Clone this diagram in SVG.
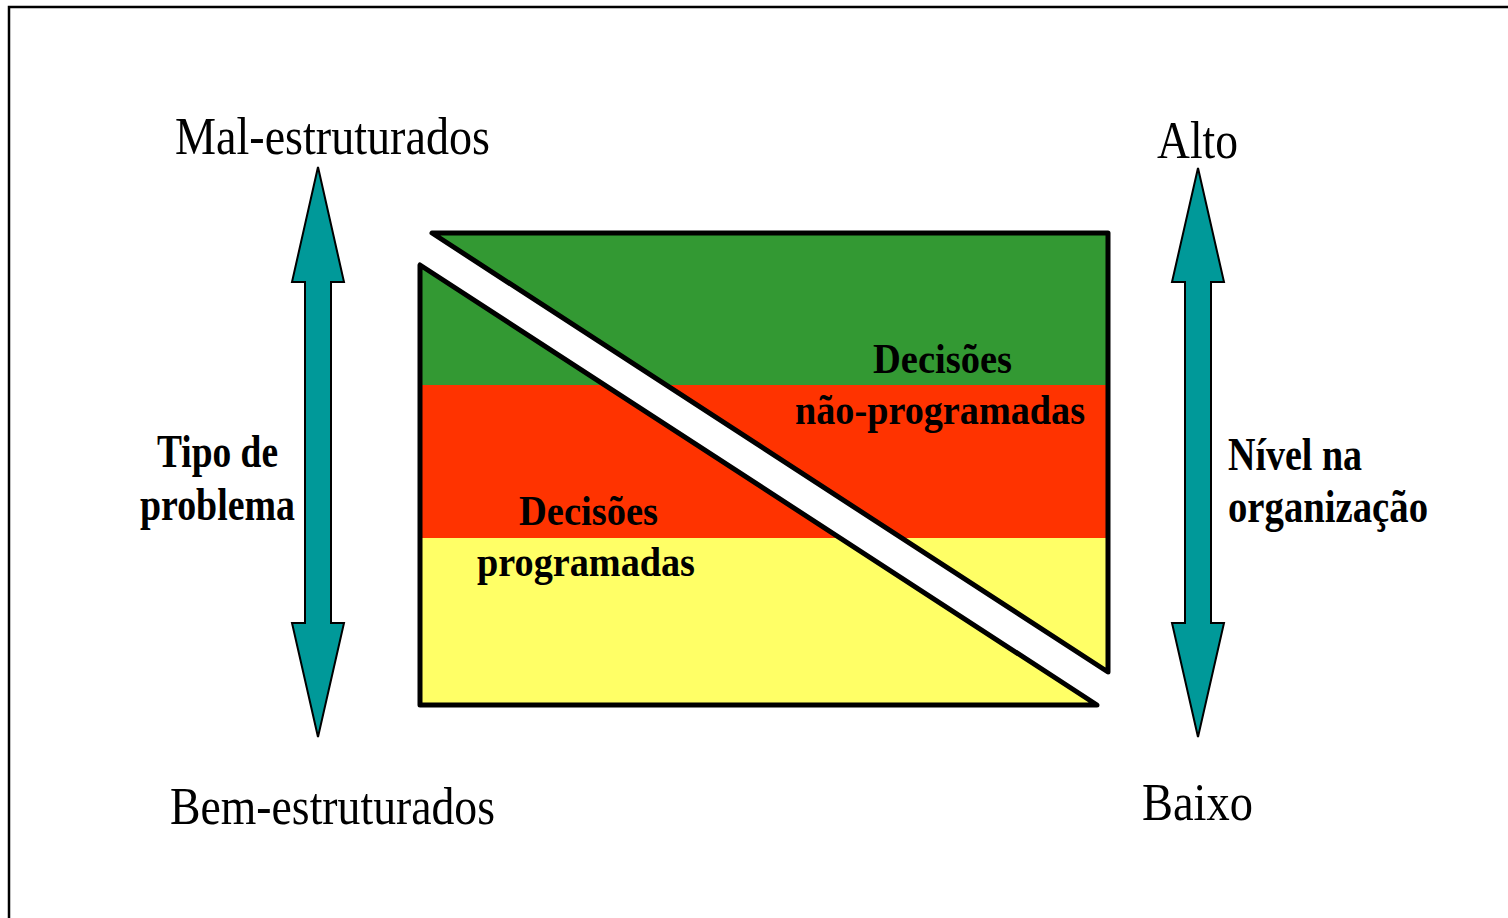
<svg xmlns="http://www.w3.org/2000/svg" width="1508" height="918" viewBox="0 0 1508 918">
  <style>
    .reg { font-family: "Liberation Serif", "Times New Roman", serif; font-size: 52px; fill: #000; }
    .bold { font-family: "Liberation Serif", "Times New Roman", serif; font-weight: bold; font-size: 46px; fill: #000; }
    .dec { font-family: "Liberation Serif", "Times New Roman", serif; font-weight: bold; font-size: 42px; fill: #000; }
    .arrow { fill: #009999; stroke: #000; stroke-width: 2; stroke-linejoin: miter; }
    .outline { fill: none; stroke: #000; stroke-width: 5; stroke-linejoin: round; }
  </style>
  <defs>
    <clipPath id="clipUpper"><polygon points="432,233 1108,233 1108,672"/></clipPath>
    <clipPath id="clipLower"><polygon points="420,265 420,705 1097,705"/></clipPath>
    <g id="bands">
      <rect x="400" y="220" width="720" height="165" fill="#339933"/>
      <rect x="400" y="385" width="720" height="153" fill="#FF3300"/>
      <rect x="400" y="538" width="720" height="180" fill="#FFFF66"/>
    </g>
  </defs>
  <rect x="0" y="0" width="1508" height="918" fill="#fff"/>
  <path d="M9,918 V7 H1508" fill="none" stroke="#000" stroke-width="2.5"/>

  <g id="decision-shape">
    <g id="nao-programadas-area">
      <use href="#bands" clip-path="url(#clipUpper)"/>
      <polygon class="outline" points="432,233 1108,233 1108,672"/>
    </g>
    <g id="programadas-area">
      <use href="#bands" clip-path="url(#clipLower)"/>
      <polygon class="outline" points="420,265 420,705 1097,705"/>
    </g>
  </g>

  <g id="connectors">
    <polygon class="arrow" points="318,167 344,282 331,282 331,623 344,623 318,737 292,623 305,623 305,282 292,282"/>
    <polygon class="arrow" points="1198,168 1224,282 1211,282 1211,623 1224,623 1198,737 1172,623 1185,623 1185,282 1172,282"/>
  </g>

  <g id="label-mal"><text class="reg" x="175" y="154" textLength="315" lengthAdjust="spacingAndGlyphs">Mal-estruturados</text></g>
  <g id="label-bem"><text class="reg" x="170" y="824" textLength="325" lengthAdjust="spacingAndGlyphs">Bem-estruturados</text></g>
  <g id="label-alto"><text class="reg" x="1157" y="158" textLength="81" lengthAdjust="spacingAndGlyphs">Alto</text></g>
  <g id="label-baixo"><text class="reg" x="1142" y="820" textLength="111" lengthAdjust="spacingAndGlyphs">Baixo</text></g>

  <g id="label-tipo">
    <text class="bold" x="157" y="467" textLength="121" lengthAdjust="spacingAndGlyphs">Tipo de</text>
    <text class="bold" x="140" y="520" textLength="155" lengthAdjust="spacingAndGlyphs">problema</text>
  </g>
  <g id="label-nivel">
    <text class="bold" x="1228" y="470" textLength="134" lengthAdjust="spacingAndGlyphs">Nível na</text>
    <text class="bold" x="1228" y="522" textLength="200" lengthAdjust="spacingAndGlyphs">organização</text>
  </g>
  <g id="label-nao-programadas">
    <text class="dec" x="873" y="373" textLength="139" lengthAdjust="spacingAndGlyphs">Decisões</text>
    <text class="dec" x="795" y="424" textLength="290" lengthAdjust="spacingAndGlyphs">não-programadas</text>
  </g>
  <g id="label-programadas">
    <text class="dec" x="519" y="525" textLength="139" lengthAdjust="spacingAndGlyphs">Decisões</text>
    <text class="dec" x="477" y="576" textLength="218" lengthAdjust="spacingAndGlyphs">programadas</text>
  </g>
</svg>
